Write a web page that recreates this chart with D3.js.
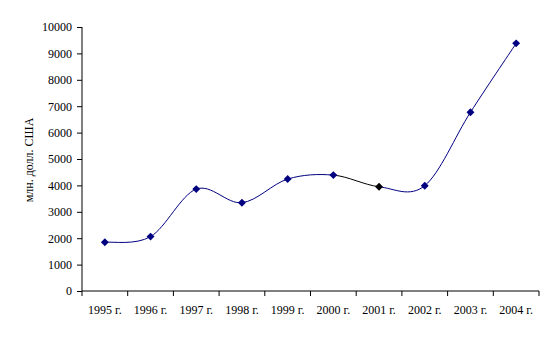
<!DOCTYPE html>
<html><head><meta charset="utf-8">
<script src="https://cdn.jsdelivr.net/npm/d3@7/dist/d3.min.js"></script>
<style>
body{margin:0;background:#fff;}
svg text{font-family:"Liberation Serif","Times New Roman",serif;font-size:12px;fill:#000;}
</style></head><body>
<svg id="c" width="555" height="339"></svg>
<script>
const categories = ["1995 г.","1996 г.","1997 г.","1998 г.","1999 г.","2000 г.","2001 г.","2002 г.","2003 г.","2004 г."];
const values = [1845, 2060, 3860, 3345, 4240, 4390, 3950, 3990, 6770, 9380];
const yTicks = [0,1000,2000,3000,4000,5000,6000,7000,8000,9000,10000];
const yTitle = "млн. долл. США";

(function(){
const svg = d3.select("#c");
const pl = 82, pr = 539, pt = 27, pb = 291;
const x = d3.scaleBand().domain(categories).range([pl, pr]);
const y = d3.scaleLinear().domain([0, 10000]).range([pb, pt]);
const navy = "#000080";

// Y axis
const ya = svg.append("g").attr("transform", `translate(${pl},0)`)
  .call(d3.axisLeft(y).tickValues(yTicks).tickSize(5).tickPadding(5).tickFormat(d3.format("d")));
ya.select(".domain").attr("stroke", "#000").attr("d", `M0,${pt}V${pb}`);
ya.selectAll(".tick line").attr("stroke", "#000");
ya.selectAll("text").attr("font-size", 12).attr("font-family", "Liberation Serif").attr("fill", "#000");

// X axis
const xa = svg.append("g").attr("transform", `translate(0,${pb})`)
  .call(d3.axisBottom(x).tickSize(0).tickPadding(0));
xa.select(".domain").attr("stroke", "#000").attr("d", `M${pl},0H${pr}`);
xa.selectAll(".tick line").remove();
xa.selectAll(".tick text").attr("dy", null).attr("y", 23).attr("font-size", 12).attr("font-family", "Liberation Serif").attr("fill", "#000");
const bounds = categories.map(c => x(c)).concat([pr]);
xa.selectAll(".bt").data(bounds).enter().append("line")
  .attr("x1", d => d).attr("x2", d => d).attr("y1", 0).attr("y2", 5).attr("stroke", "#000");

// Y title
svg.append("text").attr("transform", `translate(33,160) rotate(-90)`)
  .attr("text-anchor", "middle").text(yTitle);

// Smooth line, drawn per segment
const pts = categories.map((c, i) => [x(c) + x.bandwidth() / 2, y(values[i])]);
const segColor = i => (i === 5 ? "#000" : navy);
for (let i = 0; i < pts.length - 1; i++) {
  const p0 = pts[Math.max(0, i - 1)], p1 = pts[i], p2 = pts[i + 1], p3 = pts[Math.min(pts.length - 1, i + 2)];
  const c1 = [p1[0] + (p2[0] - p0[0]) / 6, p1[1] + (p2[1] - p0[1]) / 6];
  const c2 = [p2[0] - (p3[0] - p1[0]) / 6, p2[1] - (p3[1] - p1[1]) / 6];
  const path = d3.path();
  path.moveTo(p1[0], p1[1]);
  path.bezierCurveTo(c1[0], c1[1], c2[0], c2[1], p2[0], p2[1]);
  svg.append("path").attr("d", path.toString()).attr("fill", "none")
    .attr("stroke", segColor(i)).attr("stroke-width", 1);
}

// Markers
const diamond = d3.symbol().type(d3.symbolDiamond2).size(40);
svg.selectAll(".m").data(values).enter().append("path")
  .attr("d", diamond)
  .attr("transform", (d, i) => `translate(${x(categories[i]) + x.bandwidth() / 2},${y(d)})`)
  .attr("fill", (d, i) => (i === 6 ? "#000" : navy));
})();
</script>
</body></html>
